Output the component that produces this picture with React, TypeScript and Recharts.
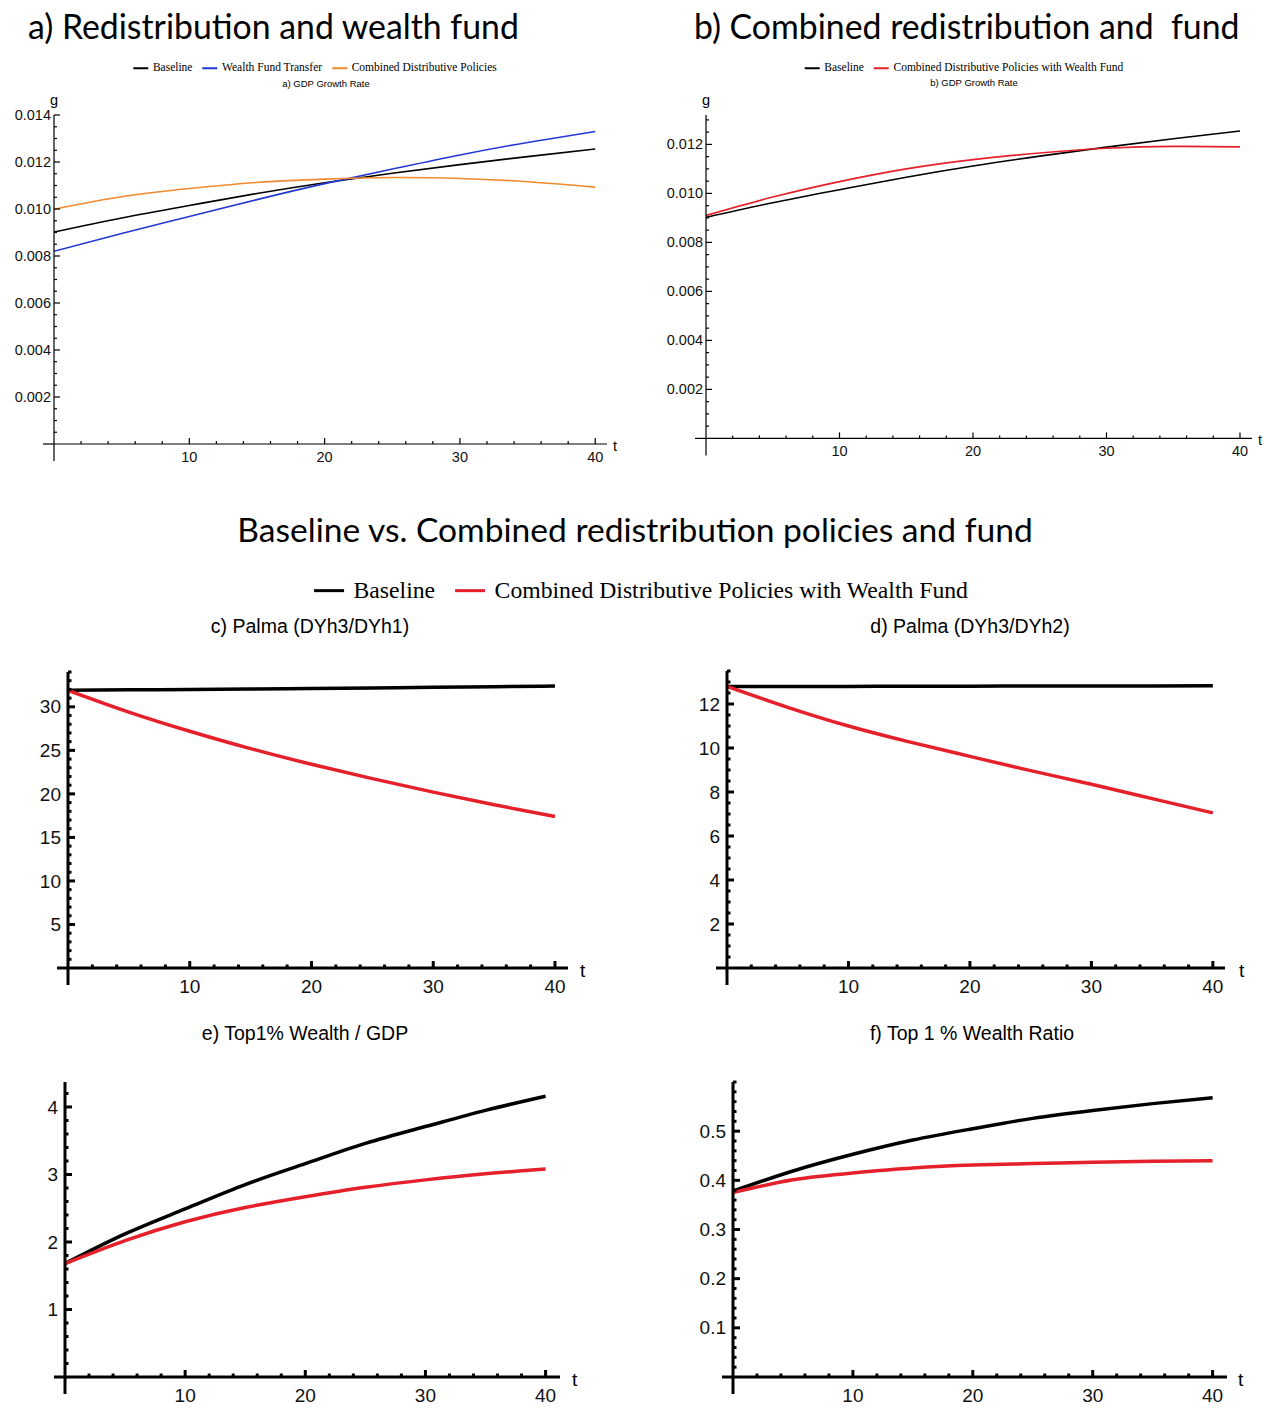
import React from 'react';
import { LineChart, Line, XAxis, YAxis, ReferenceLine } from 'recharts';

// time grid (years) the curves were read at
const years = [0, 5, 10, 15, 20, 25, 30, 35, 40];

// a) / b) GDP growth rate
const baselineGrowth = [0.00902, 0.00962, 0.01015, 0.01066, 0.01112, 0.01152, 0.01189, 0.01223, 0.01255];
const wealthFundGrowth = [0.0082, 0.00896, 0.00968, 0.0104, 0.01108, 0.0117, 0.0123, 0.01283, 0.0133];
const combinedGrowth = [0.00999, 0.01052, 0.01087, 0.01113, 0.01127, 0.01134, 0.0113, 0.01116, 0.01093];
const combinedFundGrowth = [0.0091, 0.00985, 0.01048, 0.011, 0.01138, 0.01165, 0.01184, 0.01192, 0.0119];

// c) Palma DYh3/DYh1
const palma31Base = [31.9, 31.95, 32.0, 32.05, 32.1, 32.15, 32.25, 32.3, 32.4];
const palma31Comb = [31.9, 29.4, 27.2, 25.2, 23.4, 21.75, 20.2, 18.75, 17.4];

// d) Palma DYh3/DYh2
const palma32Base = [12.8, 12.8, 12.8, 12.81, 12.81, 12.82, 12.82, 12.82, 12.83];
const palma32Comb = [12.8, 11.85, 11.0, 10.28, 9.62, 8.97, 8.35, 7.7, 7.05];

// e) Top1% wealth / GDP
const top1GdpBase = [1.68, 2.12, 2.49, 2.85, 3.16, 3.46, 3.71, 3.95, 4.16];
const top1GdpComb = [1.68, 2.02, 2.3, 2.51, 2.67, 2.81, 2.92, 3.01, 3.08];

// f) Top 1% wealth ratio
const top1RatioBase = [0.378, 0.419, 0.453, 0.482, 0.505, 0.526, 0.542, 0.556, 0.568];
const top1RatioComb = [0.375, 0.401, 0.415, 0.425, 0.431, 0.434, 0.437, 0.439, 0.44];

const xMajor = [10, 20, 30, 40];
const gMajor = [0.002, 0.004, 0.006, 0.008, 0.01, 0.012, 0.014];
const palma31Major = [5, 10, 15, 20, 25, 30];
const palma32Major = [2, 4, 6, 8, 10, 12];
const top1GdpMajor = [1, 2, 3, 4];
const top1RatioMajor = [0.1, 0.2, 0.3, 0.4, 0.5];

const BLACK = '#000000';
const BLUE = '#2238d4';
const ORANGE = '#ee8a30';
const RED = '#e5202b';

type Series = { key: string; name: string; values: number[]; color: string };

const panelA: Series[] = [
  { key: 'base', name: 'Baseline', values: baselineGrowth, color: BLACK },
  { key: 'fund', name: 'Wealth Fund Transfer', values: wealthFundGrowth, color: BLUE },
  { key: 'comb', name: 'Combined Distributive Policies', values: combinedGrowth, color: ORANGE },
];
const panelB: Series[] = [
  { key: 'base', name: 'Baseline', values: baselineGrowth, color: BLACK },
  { key: 'combFund', name: 'Combined Distributive Policies with Wealth Fund', values: combinedFundGrowth, color: RED },
];
const pair = (b: number[], c: number[]): Series[] => [
  { key: 'base', name: 'Baseline', values: b, color: BLACK },
  { key: 'comb', name: 'Combined Distributive Policies with Wealth Fund', values: c, color: RED },
];

const SANS = '"Liberation Sans", Arial, sans-serif';
const SERIF = '"Liberation Serif", "Times New Roman", serif';
const TITLE = 'Lato, "Open Sans", sans-serif';

function steps(max: number, step: number) {
  const n = Math.floor(max / step + 1e-9);
  return Array.from({ length: n }, (_, i) => +((i + 1) * step).toFixed(6));
}

interface PanelProps {
  series: Series[];
  plotLeft: number; plotTop: number; plotRight: number; plotBottom: number;
  xMax: number; yMax: number;
  yMajor: number[]; yStep: number; yDigits: number;
  heavy?: boolean;
  gLabel?: boolean;
  tGap: number;
}

function Panel(p: PanelProps) {
  // axis boxes are 1px wide/high, so the plot box sits exactly at plotLeft..plotRight
  const padL = 80, padT = 30, padR = 40, padB = 40;
  const plotW = p.plotRight - p.plotLeft;
  const plotH = p.plotBottom - p.plotTop;
  const aw = p.heavy ? 3 : 1.2;
  const lw = p.heavy ? 3.5 : 1.6;
  const majLen = p.heavy ? 7 : 6;
  const minLen = p.heavy ? 3.5 : 3;
  const fs = p.heavy ? 19 : 14.5;
  const rows = years.map((t, i) => {
    const r: Record<string, number> = { t };
    p.series.forEach(s => { r[s.key] = s.values[i]; });
    return r;
  });
  const xTicks = steps(40, 2);
  const yTicks = steps(p.yMax, p.yStep);
  const isMajorY = (v: number) => p.yMajor.some(m => Math.abs(m - v) < p.yStep / 10);
  const xExt = 11 * p.xMax / plotW;
  const yExt = 17 * p.yMax / plotH;

  const XTick = (props: any) => {
    const { x, y, payload } = props;
    const major = xMajor.includes(payload.value);
    return (
      <g>
        <line x1={x} x2={x} y1={y} y2={y - (major ? majLen : minLen)} stroke={BLACK} strokeWidth={aw} />
        {major && (
          <text x={x} y={y + (p.heavy ? 18 : 13)} dy="0.35em" textAnchor="middle" fontFamily={SANS} fontSize={fs} fill="#111">
            {payload.value}
          </text>
        )}
      </g>
    );
  };
  const YTick = (props: any) => {
    const { x, y, payload } = props;
    const major = isMajorY(payload.value);
    return (
      <g>
        <line x1={x} x2={x + (major ? majLen : minLen)} y1={y} y2={y} stroke={BLACK} strokeWidth={aw} />
        {major && (
          <text x={x - (p.heavy ? 7 : 3)} y={y} dy="0.35em" textAnchor="end" fontFamily={SANS} fontSize={fs} fill="#111">
            {payload.value.toFixed(p.yDigits)}
          </text>
        )}
      </g>
    );
  };

  return (
    <div style={{ position: 'absolute', left: p.plotLeft - padL, top: p.plotTop - padT, width: plotW + padL + padR, height: plotH + padT + padB }}>
      <LineChart width={plotW + padL + padR} height={plotH + padT + padB} data={rows}
        margin={{ top: padT, right: padR, bottom: padB - 1, left: padL - 1 }}>
        <XAxis type="number" dataKey="t" domain={[0, p.xMax]} ticks={xTicks} interval={0} height={1} tickSize={0} tickMargin={0}
          axisLine={{ stroke: BLACK, strokeWidth: aw }} tickLine={false} tick={XTick} allowDataOverflow />
        <YAxis type="number" domain={[0, p.yMax]} ticks={yTicks} interval={0} width={1} tickSize={0} tickMargin={0}
          axisLine={{ stroke: BLACK, strokeWidth: aw }} tickLine={false} tick={YTick} allowDataOverflow />
        <ReferenceLine segment={[{ x: -xExt, y: 0 }, { x: 0, y: 0 }]} stroke={BLACK} strokeWidth={aw} ifOverflow="visible" />
        <ReferenceLine segment={[{ x: 0, y: -yExt }, { x: 0, y: 0 }]} stroke={BLACK} strokeWidth={aw} ifOverflow="visible" />
        {p.series.map(s => (
          <Line key={s.key} type="natural" dataKey={s.key} name={s.name} stroke={s.color} strokeWidth={lw} dot={false} isAnimationActive={false} />
        ))}
      </LineChart>
      <div style={{ position: 'absolute', left: padL + plotW + p.tGap, top: padT + plotH + 2, transform: 'translateY(-50%)', fontFamily: SANS, fontSize: fs, lineHeight: 1 }}>t</div>
      {p.gLabel && (
        <div style={{ position: 'absolute', left: padL, top: padT - 15, transform: 'translate(-50%, -50%)', fontFamily: SANS, fontSize: fs, lineHeight: 1 }}>g</div>
      )}
    </div>
  );
}

function Legend({ series, cx, cy, fontSize, swatch, thick, gap }: { series: Series[]; cx: number; cy: number; fontSize: number; swatch: number; thick: number; gap: number }) {
  return (
    <div style={{ position: 'absolute', left: cx, top: cy, transform: 'translate(-50%, -50%)', display: 'flex', alignItems: 'center', whiteSpace: 'nowrap', fontFamily: SERIF, fontSize, lineHeight: 1 }}>
      {series.map((s, i) => (
        <div key={s.key} style={{ display: 'flex', alignItems: 'center', marginLeft: i ? gap : 0 }}>
          <span style={{ display: 'inline-block', width: swatch, height: thick, background: s.color, marginRight: fontSize * 0.4 }} />
          <span>{s.name}</span>
        </div>
      ))}
    </div>
  );
}

function Text({ children, cx, cy, size, font, left }: { children: React.ReactNode; cx: number; cy: number; size: number; font: string; left?: boolean }) {
  return (
    <div style={{ position: 'absolute', left: cx, top: cy, transform: left ? 'translateY(-50%)' : 'translate(-50%, -50%)', fontFamily: font, fontSize: size, lineHeight: 1, whiteSpace: 'pre', color: '#000' }}>
      {children}
    </div>
  );
}

export default function App() {
  return (
    <div style={{ position: 'absolute', left: 0, top: 0, width: 1270, height: 1418, background: '#fff', overflow: 'hidden' }}>
      <Text cx={28} cy={27} size={33.8} font={TITLE} left>a) Redistribution and wealth fund</Text>
      <Text cx={694} cy={27} size={33.8} font={TITLE} left>b) Combined redistribution and  fund</Text>
      <Legend series={panelA} cx={315} cy={68} fontSize={11.5} swatch={15} thick={1.5} gap={10} />
      <Text cx={326} cy={84} size={9.5} font={SANS}>a) GDP Growth Rate</Text>
      <Legend series={panelB} cx={964} cy={68} fontSize={11.5} swatch={15} thick={1.5} gap={10} />
      <Text cx={974} cy={83} size={9.5} font={SANS}>b) GDP Growth Rate</Text>

      <Panel series={panelA} plotLeft={54} plotTop={115} plotRight={607} plotBottom={444} xMax={40.87} yMax={0.014}
        yMajor={gMajor} yStep={0.0005} yDigits={3} gLabel tGap={6} />
      <Panel series={panelB} plotLeft={706} plotTop={114.6} plotRight={1252} plotBottom={438} xMax={40.9} yMax={0.0132}
        yMajor={gMajor} yStep={0.0005} yDigits={3} gLabel tGap={6} />

      <Text cx={635} cy={530} size={33.6} font={TITLE}>Baseline vs. Combined redistribution policies and fund</Text>
      <Legend series={pair(palma31Base, palma31Comb)} cx={641} cy={591} fontSize={23.7} swatch={30} thick={3} gap={20} />

      <Text cx={310} cy={627} size={19.5} font={SANS}>c) Palma (DYh3/DYh1)</Text>
      <Text cx={970} cy={627} size={19.5} font={SANS}>d) Palma (DYh3/DYh2)</Text>
      <Panel series={pair(palma31Base, palma31Comb)} plotLeft={68} plotTop={672} plotRight={568} plotBottom={968} xMax={41.07} yMax={34}
        yMajor={palma31Major} yStep={1} yDigits={0} heavy tGap={12} />
      <Panel series={pair(palma32Base, palma32Comb)} plotLeft={727} plotTop={671} plotRight={1225} plotBottom={968} xMax={41} yMax={13.5}
        yMajor={palma32Major} yStep={0.5} yDigits={0} heavy tGap={14} />

      <Text cx={305} cy={1034} size={19.5} font={SANS}>e) Top1% Wealth / GDP</Text>
      <Text cx={972} cy={1034} size={19.5} font={SANS}>f) Top 1 % Wealth Ratio</Text>
      <Panel series={pair(top1GdpBase, top1GdpComb)} plotLeft={65} plotTop={1082} plotRight={560} plotBottom={1377} xMax={41.2} yMax={4.37}
        yMajor={top1GdpMajor} yStep={0.2} yDigits={0} heavy tGap={12} />
      <Panel series={pair(top1RatioBase, top1RatioComb)} plotLeft={733} plotTop={1082} plotRight={1227} plotBottom={1377} xMax={41.2} yMax={0.6}
        yMajor={top1RatioMajor} yStep={0.02} yDigits={1} heavy tGap={11} />
    </div>
  );
}
